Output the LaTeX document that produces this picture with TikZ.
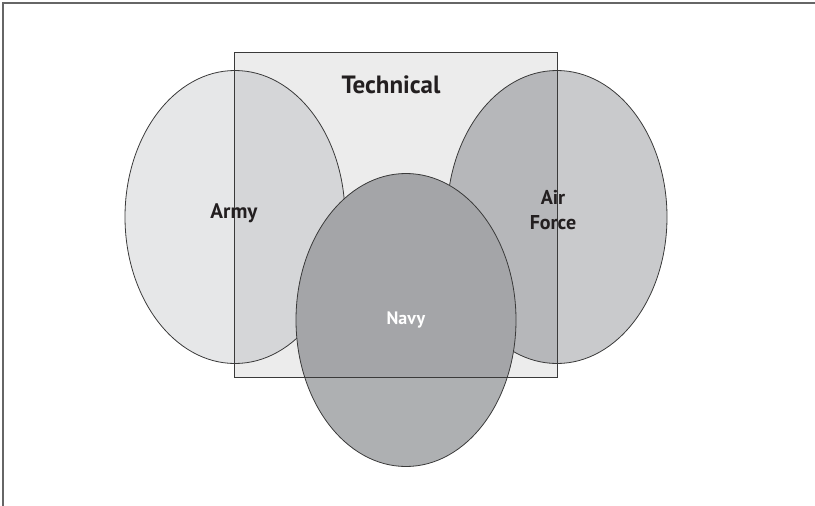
\documentclass[tikz,border=0pt]{standalone}
\usepackage{fontspec}
\setsansfont{PT Sans}
\usepackage{tikz}
\usetikzlibrary{backgrounds}
\definecolor{linecolor}{HTML}{3A3A3A}
\definecolor{textcolor}{HTML}{231F20}
\definecolor{techcolor}{HTML}{ECECEC}
\definecolor{armyout}{HTML}{E6E7E8}
\definecolor{armyin}{HTML}{D5D6D8}
\definecolor{airout}{HTML}{C9CACC}
\definecolor{airin}{HTML}{B6B7BA}
\definecolor{navyout}{HTML}{AEB0B2}
\definecolor{navyin}{HTML}{A4A5A8}
\tikzset{
  setlabel/.style={font=\sffamily\bfseries\fontsize{20}{25}\selectfont, text=textcolor, align=center, inner sep=0pt},
  blobline/.style={draw=linecolor, line width=0.8pt}
}

\begin{document}
\begin{tikzpicture}[x=1pt,y=-1pt]
  \useasboundingbox (0,0) rectangle (815,506);
  %% page frame, top and left only
  \draw[black!60, line width=1.2pt] (3,506) -- (3,3) -- (815,3);
  \coordinate (technw) at (234,52);
  \coordinate (techse) at (557,377);
  \fill[techcolor] (technw) rectangle (techse);
  %% the three services, lighter outside the technical box
  \foreach \cx/\cy/\colout/\colin in {235/217/armyout/armyin, 557/217/airout/airin, 406/320/navyout/navyin}
  {
    \fill[\colout] (\cx,\cy) ellipse (110pt and 146.5pt);
    \begin{scope}
      \clip (technw) rectangle (techse);
      \fill[\colin] (\cx,\cy) ellipse (110pt and 146.5pt);
    \end{scope}
    \draw[blobline] (\cx,\cy) ellipse (110pt and 146.5pt);
  }
  \draw[linecolor, line width=1pt] (technw) rectangle (techse);
  \node[setlabel, font=\sffamily\bfseries\fontsize{25}{30}\selectfont] (technical) at (391,85) {Technical};
  \node[setlabel, font=\sffamily\bfseries\fontsize{21}{25}\selectfont] (army) at (234,213) {Army};
  \node[setlabel] (airforce) at (553,210) {Air\\Force};
  \node[setlabel, text=white, font=\sffamily\bfseries\fontsize{18}{22}\selectfont] (navy) at (406,320) {Navy};
\end{tikzpicture}
\end{document}
